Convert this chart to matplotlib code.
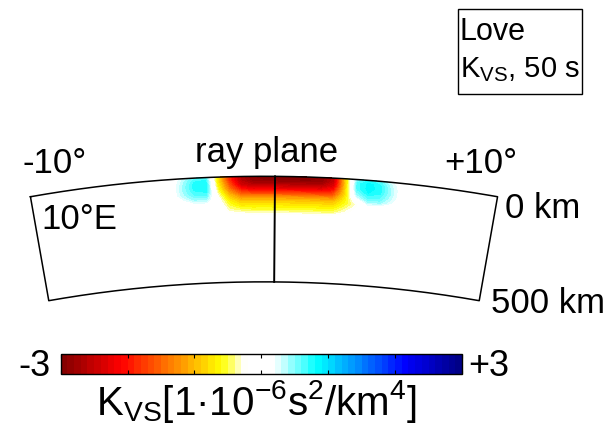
import numpy as np
import matplotlib
matplotlib.use("Agg")
import matplotlib.pyplot as plt
from matplotlib.colors import LinearSegmentedColormap
from matplotlib.patches import Rectangle

plt.rcParams['font.family'] = ['Liberation Sans', 'DejaVu Sans']
plt.rcParams['mathtext.fontset'] = 'custom'
plt.rcParams['mathtext.rm'] = 'Liberation Sans'

# ---- kernel data: K_vs sensitivity (1e-6 s^2/km^4) on an angle x depth grid ----
angle_deg = [-4.0, -3.5, -3.0, -2.5, -2.0, -1.5, -1.0, -0.5, 0.0, 0.5, 1.0,
             1.5, 2.0, 2.5, 3.0, 3.5, 4.0, 4.5, 5.0, 5.5, 6.0]
depth_km = [0, 20, 40, 60, 80, 100, 120, 140, 160, 180, 200]
kernel_vs = [
    [0, .25, .55, .60, -.70, -1.8, -2.6, -2.9, -2.95, -2.95, -2.95, -2.95, -2.95, -2.9, -2.5, -.80, .45, .70, .55, .20, 0],
    [0, .35, .70, .75, -.70, -1.8, -2.6, -2.85, -2.9, -2.9, -2.9, -2.9, -2.9, -2.85, -2.5, -.90, .65, .85, .70, .30, 0],
    [0, .40, .75, .80, -.60, -1.6, -2.4, -2.6, -2.6, -2.6, -2.6, -2.6, -2.6, -2.6, -2.3, -.90, .65, .85, .75, .35, 0],
    [0, .40, .70, .75, -.50, -1.4, -2.0, -2.2, -2.2, -2.2, -2.2, -2.2, -2.2, -2.2, -2.0, -.85, .50, .80, .70, .35, 0],
    [0, .35, .60, .65, -.35, -1.1, -1.6, -1.7, -1.7, -1.7, -1.7, -1.7, -1.7, -1.7, -1.6, -.80, .30, .65, .60, .30, 0],
    [0, .20, .45, .45, -.20, -.85, -1.2, -1.2, -1.2, -1.2, -1.2, -1.2, -1.2, -1.2, -1.2, -.70, -.10, .45, .45, .20, 0],
    [0, .05, .20, .20, -.10, -.65, -.90, -.90, -.90, -.90, -.90, -.90, -.90, -.90, -.90, -.60, -.30, .15, .15, .05, 0],
    [0, 0, 0, 0, 0, -.50, -.70, -.70, -.70, -.70, -.70, -.70, -.70, -.70, -.70, -.45, -.20, 0, 0, 0, 0],
    [0, 0, 0, 0, 0, -.35, -.45, -.50, -.50, -.50, -.50, -.50, -.50, -.50, -.50, -.30, -.10, 0, 0, 0, 0],
    [0, 0, 0, 0, 0, -.15, -.20, -.25, -.25, -.25, -.25, -.25, -.25, -.25, -.20, -.10, 0, 0, 0, 0, 0],
    [0] * 21,
]
cbar_ticks = [-3, -2, -1, 0, 1, 2, 3]

# ---- section geometry ----
R_EARTH = 6371.0
section_half_width_deg = 10.0
section_depth_km = 500.0
ray_plane_deg = 0.47

W, H = 610, 435
DPI = 100
km_per_px = R_EARTH / 1345.0
x_center_px, y_top_px = 264.0, 177.3

fig = plt.figure(figsize=(W / DPI, H / DPI), dpi=DPI)
ax = fig.add_axes([0, 0, 1, 1])
ax.set_xlim(-x_center_px * km_per_px, (W - x_center_px) * km_per_px)
ax.set_ylim(R_EARTH - (H - y_top_px) * km_per_px, R_EARTH + y_top_px * km_per_px)
ax.axis('off')

def to_xy(theta_deg, depth):
    th = np.radians(theta_deg)
    r = R_EARTH - np.asarray(depth, dtype=float)
    return r * np.sin(th), r * np.cos(th)

# colour map: dark red -> red -> yellow -> white -> cyan -> blue -> dark blue
cmap = LinearSegmentedColormap.from_list('kvs', [
    (0.00, (0.5, 0.0, 0.0)), (0.15, (1.0, 0.0, 0.0)), (0.40, (1.0, 1.0, 0.0)),
    (0.46, (1.0, 1.0, 1.0)), (0.53, (1.0, 1.0, 1.0)), (0.64, (0.0, 1.0, 1.0)),
    (0.86, (0.0, 0.0, 1.0)), (1.00, (0.0, 0.0, 0.5))], N=256)

TH, DD = np.meshgrid(angle_deg, depth_km)
X, Y = to_xy(TH, DD)
levels = np.linspace(-3, 3, 61)
cs = ax.contourf(X, Y, np.array(kernel_vs), levels=levels, cmap=cmap, vmin=-3, vmax=3)

# section outline
th = np.linspace(-section_half_width_deg, section_half_width_deg, 200)
xt, yt = to_xy(th, 0.0)
xb, yb = to_xy(th[::-1], section_depth_km)
ox = np.concatenate([xt, xb, xt[:1]])
oy = np.concatenate([yt, yb, yt[:1]])
ax.plot(ox, oy, color='black', lw=1.1)
rx, ry = to_xy(np.array([ray_plane_deg, ray_plane_deg]), np.array([0.0, section_depth_km]))
ax.plot(rx, ry, color='black', lw=1.4)

def ftext(x, y, s, **kw):
    fig.text(x / W, 1 - y / H, s, **kw)

ftext(266.5, 161.7, 'ray plane', ha='center', va='baseline', fontsize=25)
ftext(22, 173.3, '-10°', ha='left', va='baseline', fontsize=25)
ftext(444, 173.3, '+10°', ha='left', va='baseline', fontsize=25)
ftext(41, 229.3, '10°E', ha='left', va='baseline', fontsize=25)
ftext(505, 217.7, '0 km', ha='left', va='baseline', fontsize=25)
ftext(491, 313.3, '500 km', ha='left', va='baseline', fontsize=25)

# legend box
fig.patches.append(Rectangle((458 / W, 1 - 95 / H), 124 / W, 85 / H, transform=fig.transFigure,
                             fill=False, edgecolor='black', lw=1.0))
ftext(460, 40, 'Love', ha='left', va='baseline', fontsize=22)
ftext(460, 77, r'K$_\mathregular{VS}$, 50 s', ha='left', va='baseline', fontsize=21)

# colour bar
cax = fig.add_axes([60.7 / W, 1 - 375 / H, (462 - 60.7) / W, 20 / H])
cb = fig.colorbar(cs, cax=cax, orientation='horizontal', ticks=cbar_ticks)
cb.outline.set_linewidth(1.0)
cax.tick_params(axis='x', direction='in', length=3, width=0.8, top=True, bottom=True,
                labelbottom=False, color='black')
ftext(18, 376.5, '-3', ha='left', va='baseline', fontsize=26)
ftext(468, 376.5, '+3', ha='left', va='baseline', fontsize=26)
ftext(256, 415, r'K$_\mathregular{VS}$[1·10$^\mathregular{-6}$s$^\mathregular{2}$/km$^\mathregular{4}$]',
      ha='center', va='baseline', fontsize=29)

fig.savefig('out.png', dpi=DPI, facecolor='white')
